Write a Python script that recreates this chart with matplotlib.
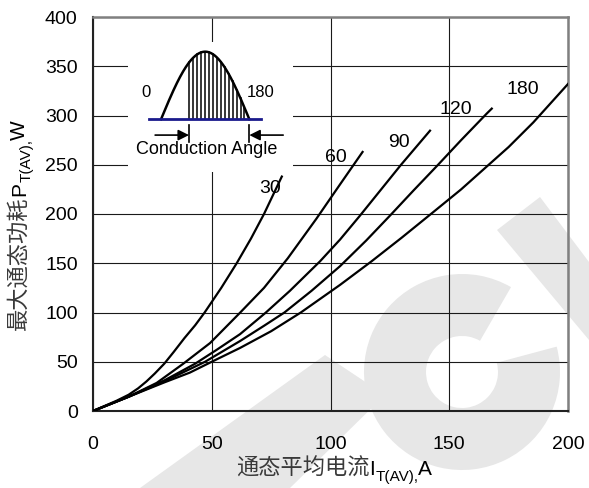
import numpy as np
import matplotlib
matplotlib.use('Agg')
import matplotlib.pyplot as plt
from matplotlib.patches import Polygon, Wedge

plt.rcParams['font.family'] = ['Liberation Sans', 'Noto Sans CJK SC']

# ── curve data (I_T(AV) in A, P_T(AV) in W) ──
x30 = [0, 10, 15, 19, 22.5, 26, 30, 34, 38.5, 43, 47, 54, 60.5, 66.5, 72, 79.5]
y30 = [0, 10.5, 16.5, 23, 30, 38, 48, 60, 74, 87, 100, 125, 150, 175, 200, 238]

x60 = [0, 15, 26.8, 38, 49.3, 62, 72, 82, 94, 104, 113.5]
y60 = [0, 14.5, 28.5, 48, 69, 100, 125, 155, 195, 230, 263]

x90 = [0, 15, 30, 43, 52, 61.9, 72.8, 82.9, 95.6, 104, 112.3, 121, 129.7, 141.9]
y90 = [0, 14.5, 31, 48, 62, 78, 100, 122, 152, 174, 198, 224, 250, 284.6]

x120 = [0, 15, 30, 47.2, 61.9, 72, 80.6, 92, 104, 115, 125.3, 135, 145.3, 155, 165.8, 167.9]
y120 = [0, 14.5, 30, 50, 71, 86.5, 100, 122, 147, 173, 199, 224, 250, 275, 302, 307]

x180 = [0, 15, 30, 40.8, 50, 61.9, 75, 87.5, 104, 117.3, 130, 143.3, 155, 164.3, 175, 185.4, 200]
y180 = [0, 14.5, 29, 39, 50, 64, 81, 100, 128, 152, 176, 202, 225, 245, 268, 293, 332]

curve_labels = ['30', '60', '90', '120', '180']
label_x = [74.5, 102.3, 128.8, 152.8, 181]
label_y = [226, 257.4, 272.6, 306, 326.4]

xticks = [0, 50, 100, 150, 200]
yticks = [0, 50, 100, 150, 200, 250, 300, 350, 400]

W, H = 589, 488
fig = plt.figure(figsize=(W / 100, H / 100), dpi=100)

# ── faint logo watermark behind everything ──
bg = fig.add_axes([0, 0, 1, 1], zorder=0)
bg.set_xlim(0, W)
bg.set_ylim(H, 0)
bg.axis('off')
wm = '#e7e7e7'
bg.add_patch(Polygon([(140, 488), (290, 488), (385, 395), (325, 355)], closed=True, color=wm, lw=0))
bg.add_patch(Wedge((462, 372), 98, -15, 300, width=62, color=wm, lw=0))
bg.add_patch(Polygon([(497, 230), (540, 197), (589, 262), (589, 340)], closed=True, color=wm, lw=0))

# ── main axes ──
ax = fig.add_axes([93 / W, 77 / H, 475 / W, 394 / H], zorder=1)
ax.set_facecolor('none')
for xs, ys in [(x30, y30), (x60, y60), (x90, y90), (x120, y120), (x180, y180)]:
    ax.plot(xs, ys, color='black', lw=1.6, zorder=3)
for lab, lx, ly in zip(curve_labels, label_x, label_y):
    ax.text(lx, ly, lab, ha='center', va='center', fontsize=14, zorder=4)

ax.set_xlim(0, 200)
ax.set_ylim(0, 400)
ax.set_xticks(xticks)
ax.set_yticks(yticks)
ax.grid(True, color='#1a1a1a', lw=0.8)
ax.tick_params(axis='both', length=0, labelsize=14)
ax.tick_params(axis='x', pad=18)
ax.tick_params(axis='y', pad=11)
for side in ['left', 'bottom']:
    ax.spines[side].set_color('#222222')
    ax.spines[side].set_linewidth(1.5)
for side in ['top', 'right']:
    ax.spines[side].set_color('#808080')
    ax.spines[side].set_linewidth(1.8)

# ── inset: conduction angle sketch ──
ins = fig.add_axes([128 / W, (H - 172) / H, 165 / W, 130 / H], zorder=2)
ins.set_facecolor('white')
ins.set_xticks([])
ins.set_yticks([])
for s in ins.spines.values():
    s.set_visible(False)
ins.set_xlim(-67.3, 269)
ins.set_ylim(-0.78, 1.143)

th = np.linspace(0, 180, 200)
ins.plot(th, np.sin(np.radians(th)), color='black', lw=1.8)
for a in np.arange(58, 171, 8):
    ins.plot([a, a], [0, np.sin(np.radians(a))], color='black', lw=1.1)
ins.plot([-24, 203], [0, 0], color='#1a1a8c', lw=2)
for a in [58, 179]:
    ins.plot([a, a], [-0.08, -0.33], color='black', lw=1.2)
arrow = dict(arrowstyle='-|>', color='black', lw=1.2, mutation_scale=16, shrinkA=0, shrinkB=0)
ins.annotate('', xy=(57, -0.234), xytext=(-12, -0.234), arrowprops=arrow)
ins.annotate('', xy=(180, -0.234), xytext=(249, -0.234), arrowprops=arrow)
ins.text(-31, 0.389, '0', ha='center', va='center', fontsize=12)
ins.text(202, 0.389, '180', ha='center', va='center', fontsize=12)
ins.text(93, -0.454, 'Conduction Angle', ha='center', va='center', fontsize=13)

# ── axis labels with subscripts (built from pieces so CJK falls back) ──
renderer = fig.canvas.get_renderer()
cjk_col = '#3a3a3a'

# x label
base_y = H - 475
t1 = fig.text(236 / W, base_y / H, '通态平均电流', fontsize=16, color=cjk_col,
              ha='left', va='baseline')
bb = t1.get_window_extent(renderer)
t1b = fig.text(bb.x1 / W, base_y / H, 'I', fontsize=15, ha='left', va='baseline')
bb = t1b.get_window_extent(renderer)
t2 = fig.text(bb.x1 / W, (base_y - 6) / H, 'T(AV),', fontsize=11, ha='left', va='baseline')
bb = t2.get_window_extent(renderer)
fig.text(bb.x1 / W, base_y / H, 'A', fontsize=15, ha='left', va='baseline')

# y label (rotated)
base_x = 25
y1 = fig.text(base_x / W, (H - 330) / H, '最大通态功耗', fontsize=16, color=cjk_col,
              rotation=90, rotation_mode='anchor', ha='left', va='baseline')
bb = y1.get_window_extent(renderer)
y1b = fig.text(base_x / W, bb.y1 / H, 'P', fontsize=15, rotation=90,
               rotation_mode='anchor', ha='left', va='baseline')
bb = y1b.get_window_extent(renderer)
y2 = fig.text((base_x + 6) / W, bb.y1 / H, 'T(AV),', fontsize=11, rotation=90,
              rotation_mode='anchor', ha='left', va='baseline')
bb = y2.get_window_extent(renderer)
fig.text(base_x / W, bb.y1 / H, 'W', fontsize=15, rotation=90,
         rotation_mode='anchor', ha='left', va='baseline')

fig.savefig('out.png', dpi=100)
